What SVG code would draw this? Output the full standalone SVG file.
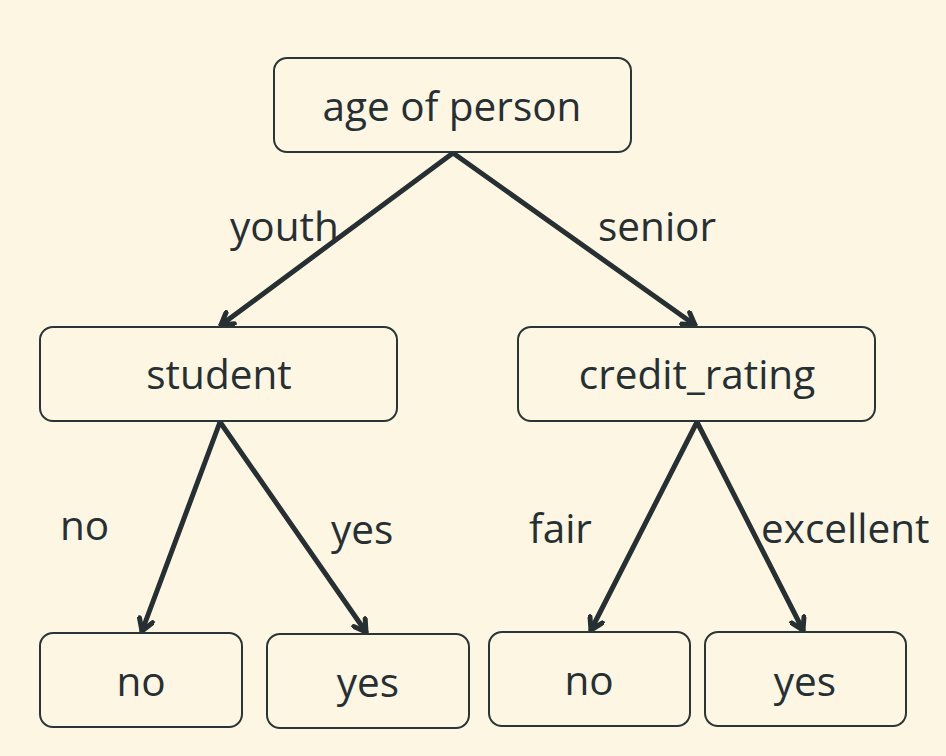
<svg xmlns="http://www.w3.org/2000/svg" width="946" height="756" viewBox="0 0 946 756">
<style>
.box{fill:#fdf6e3;stroke:#2b3437;stroke-width:2}
.t{font-family:"Open Sans","Noto Sans",sans-serif;font-size:40.5px;fill:#263033;text-anchor:middle}
.l{font-family:"Open Sans","Noto Sans",sans-serif;font-size:40.5px;fill:#263033}
.c{fill:none;stroke:#263033;stroke-width:5;stroke-linecap:round;stroke-linejoin:round}
</style>
<defs>
<marker id="arr" viewBox="-14 -9 16 18" markerWidth="16" markerHeight="18" refX="0" refY="0" orient="auto" markerUnits="userSpaceOnUse">
<path d="M-11.5,-7 L0,0 L-11.5,7" fill="none" stroke="#263033" stroke-width="5" stroke-linecap="round" stroke-linejoin="round"/>
</marker>
</defs>
<rect width="946" height="756" fill="#fdf6e3"/>
<g id="connectors">
<line class="c" x1="453" y1="153" x2="221" y2="325" marker-end="url(#arr)"/>
<line class="c" x1="453" y1="153" x2="695" y2="325" marker-end="url(#arr)"/>
<line class="c" x1="220" y1="422" x2="142" y2="631" marker-end="url(#arr)"/>
<line class="c" x1="220" y1="422" x2="366" y2="632" marker-end="url(#arr)"/>
<line class="c" x1="697" y1="422" x2="591" y2="630" marker-end="url(#arr)"/>
<line class="c" x1="697" y1="422" x2="803" y2="630" marker-end="url(#arr)"/>
<text class="l" x="230" y="241">youth</text>
<text class="l" x="598" y="241">senior</text>
<text class="l" x="60" y="540">no</text>
<text class="l" x="331" y="544">yes</text>
<text class="l" x="529" y="543">fair</text>
<text class="l" x="761" y="543">excellent</text>
</g>
<g id="n-age"><rect class="box" x="274" y="58" width="357" height="94" rx="13"/><text class="t" x="452" y="121">age of person</text></g>
<g id="n-student"><rect class="box" x="40" y="327" width="357" height="94" rx="13"/><text class="t" x="219" y="389">student</text></g>
<g id="n-credit"><rect class="box" x="518" y="327" width="357" height="94" rx="13"/><text class="t" x="697" y="389">credit_rating</text></g>
<g id="n-no1"><rect class="box" x="40" y="633" width="202" height="94" rx="13"/><text class="t" x="141" y="696">no</text></g>
<g id="n-yes1"><rect class="box" x="267" y="634" width="202" height="94" rx="13"/><text class="t" x="368" y="697">yes</text></g>
<g id="n-no2"><rect class="box" x="489" y="632" width="201" height="94" rx="13"/><text class="t" x="589" y="695">no</text></g>
<g id="n-yes2"><rect class="box" x="705" y="632" width="201" height="94" rx="13"/><text class="t" x="805" y="696">yes</text></g>
</svg>
